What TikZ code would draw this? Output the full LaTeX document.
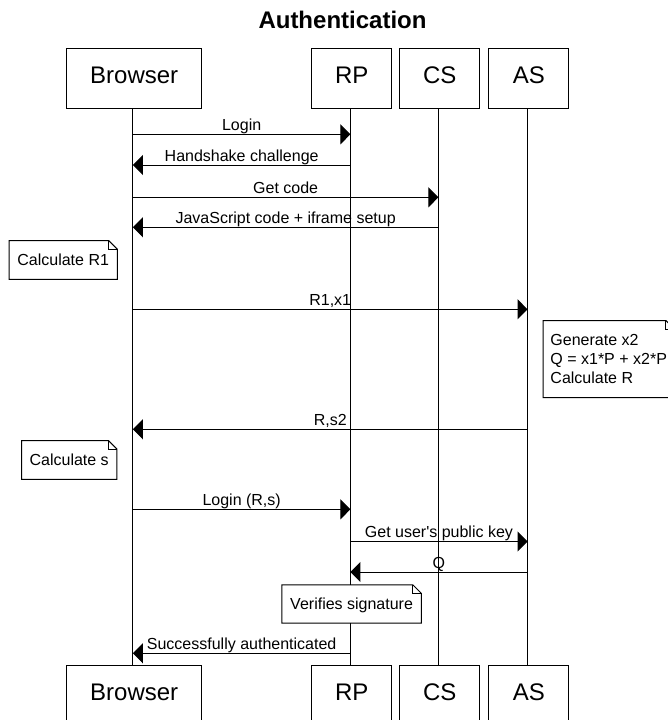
\documentclass[tikz,border=0pt]{standalone}
\usepackage{fontspec}
\setmainfont{Liberation Sans}
\usetikzlibrary{arrows.meta,calc}

\tikzset{
  actor/.style={draw=black, line width=1pt, fill=white, minimum width=#1,
    minimum height=60pt, inner sep=0pt, font=\fontsize{24}{29}\selectfont,
    text height=17.2pt, text depth=7pt},
  life/.style={line width=1pt},
  msg/.style={line width=1pt, -{Triangle[length=10pt,width=20pt]}},
  lbl/.style={font=\fontsize{16}{19}\selectfont, anchor=base, inner sep=0pt},
  note/.style={fill=white, inner sep=0pt, font=\fontsize{16}{19}\selectfont,
    text height=11.5pt, text depth=0pt},
  notemulti/.style={fill=white, inner ysep=0pt, inner xsep=7pt,
    font=\fontsize{16}{18.8}\selectfont, align=left},
  noteline/.style={line width=1pt, line join=miter},
}

% note outline with a folded top-right corner
\newcommand\foldoutline[1]{%
  \draw[noteline] (#1.south west) -- (#1.north west)
    -- ([xshift=-8.5pt]#1.north east) -- ([yshift=-8.5pt]#1.north east)
    -- (#1.south east) -- cycle;
  \draw[noteline] ([xshift=-8.5pt]#1.north east)
    -- ([xshift=-8.5pt,yshift=-8.5pt]#1.north east)
    -- ([yshift=-8.5pt]#1.north east);}

% message between two lifelines at a given height
\newcommand\seqmsg[4]{%
  \draw[msg] (#1 |- 0,#3) -- (#2 |- 0,#3)
    node[lbl, midway, yshift=3.6pt] {#4};}

\begin{document}
\begin{tikzpicture}[x=1pt, y=-1pt]
\useasboundingbox (0,0) rectangle (668,720);
\clip (0,0) rectangle (668,720);

% participant heads (top and bottom)
\node[actor=135pt] (bTop) at (134.2,78) {Browser};
\node[actor=80pt]  (rTop) at (351.7,78) {RP};
\node[actor=80pt]  (cTop) at (439.7,78) {CS};
\node[actor=80pt]  (aTop) at (528.8,78) {AS};
\node[actor=135pt] (bBot) at (134.2,695) {Browser};
\node[actor=80pt]  (rBot) at (351.7,695) {RP};
\node[actor=80pt]  (cBot) at (439.7,695) {CS};
\node[actor=80pt]  (aBot) at (528.8,695) {AS};

% lifelines
\coordinate (bL) at ([xshift=-1.3pt]bTop.south);
\coordinate (rL) at ([xshift=-1.3pt]rTop.south);
\coordinate (cL) at ([xshift=-1.3pt]cTop.south);
\coordinate (aL) at ([xshift=-1.3pt]aTop.south);
\draw[life] (bL) -- ([xshift=-1.3pt]bBot.north);
\draw[life] (rL) -- ([xshift=-1.3pt]rBot.north);
\draw[life] (cL) -- ([xshift=-1.3pt]cBot.north);
\draw[life] (aL) -- ([xshift=-1.3pt]aBot.north);

% messages
\seqmsg{bL}{rL}{134.3}{Login}
\seqmsg{rL}{bL}{165}{Handshake challenge}
\seqmsg{bL}{cL}{197.3}{Get code}
\seqmsg{cL}{bL}{227.3}{JavaScript code + iframe setup}
\seqmsg{bL}{aL}{309.3}{R1,x1}
\seqmsg{aL}{bL}{429.3}{R,s2}
\seqmsg{bL}{rL}{509.3}{Login (R,s)}
\seqmsg{rL}{aL}{541.5}{Get user\textquotesingle s public key}
\seqmsg{aL}{rL}{572}{Q}
\seqmsg{rL}{bL}{653.3}{Successfully authenticated}

% notes
\node[note, minimum width=107.7pt, minimum height=38.3pt] (noteR1) at (63.2,259.9) {Calculate R1};
\foldoutline{noteR1}
\node[notemulti, minimum width=131pt, minimum height=76.6pt] (noteGen) at (608.7,359)
  {Generate x2\\Q = x1*P + x2*P\\Calculate R};
\foldoutline{noteGen}
\node[note, minimum width=95pt, minimum height=38.3pt] (noteS) at (69.2,459.9) {Calculate s};
\foldoutline{noteS}
\node[note, minimum width=139pt, minimum height=38pt] (noteVer) at (351.6,604) {Verifies signature};
\foldoutline{noteVer}

% title
\node[font=\fontsize{24}{29}\selectfont\bfseries, anchor=base, inner sep=0pt] (title)
  at (342.5,28.3) {Authentication};
\end{tikzpicture}
\end{document}
